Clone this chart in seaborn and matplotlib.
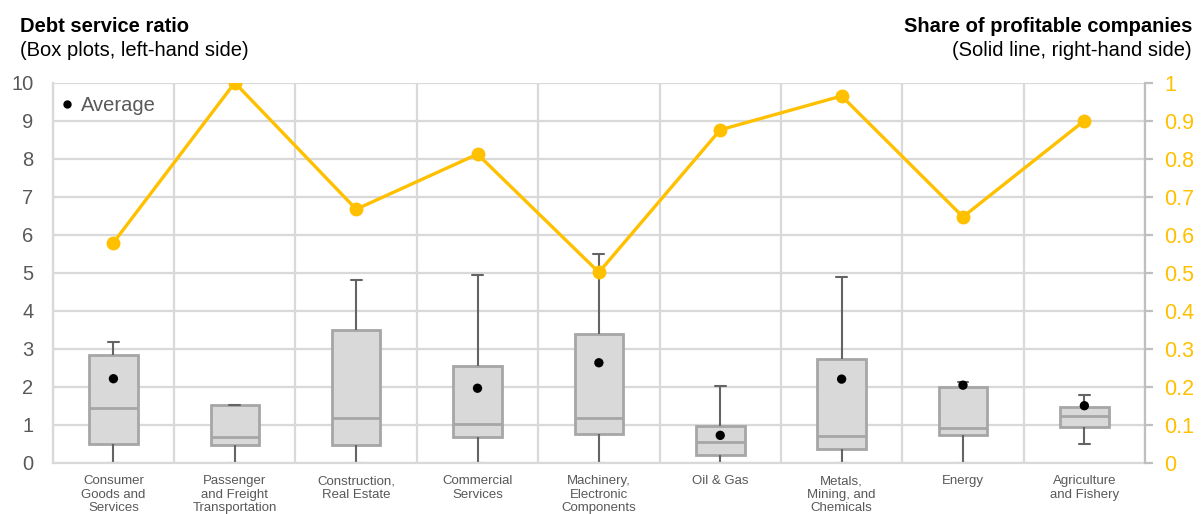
import numpy as np
import pandas as pd
import matplotlib
matplotlib.use("Agg")
import matplotlib.pyplot as plt
from matplotlib.lines import Line2D
import seaborn as sns

# Sectors (x-axis categories)
sectors = [
    "Consumer\nGoods and\nServices",
    "Passenger\nand Freight\nTransportation",
    "Construction,\nReal Estate",
    "Commercial\nServices",
    "Machinery,\nElectronic\nComponents",
    "Oil & Gas",
    "Metals,\nMining, and\nChemicals",
    "Energy",
    "Agriculture\nand Fishery",
]

# Debt service ratio distribution per sector (five-number summary)
dsr_min = [0.00, 0.00, 0.00, 0.00, 0.00, 0.00, 0.00, 0.00, 0.50]
dsr_q1 = [0.48, 0.46, 0.47, 0.67, 0.76, 0.19, 0.35, 0.73, 0.94]
dsr_median = [1.45, 0.67, 1.18, 1.02, 1.18, 0.54, 0.70, 0.92, 1.24]
dsr_q3 = [2.83, 1.51, 3.50, 2.54, 3.39, 0.97, 2.74, 1.98, 1.47]
dsr_max = [3.17, 1.51, 4.81, 4.93, 5.49, 2.02, 4.88, 2.12, 1.78]

# Average debt service ratio (not shown for two sectors)
dsr_mean = [2.21, np.nan, np.nan, 1.96, 2.63, 0.72, 2.20, 2.04, 1.50]

# Share of profitable companies (right-hand axis)
share_profitable = [0.579, 1.00, 0.667, 0.812, 0.501, 0.876, 0.965, 0.647, 0.900]

left_ticks = list(range(0, 11))
right_ticks = [0, 0.1, 0.2, 0.3, 0.4, 0.5, 0.6, 0.7, 0.8, 0.9, 1.0]

GREY_TXT = "#595959"
GRID = "#D9D9D9"
YELLOW = "#FFC000"

sns.set_theme(style="white")
plt.rcParams["font.family"] = ["Liberation Sans", "DejaVu Sans"]

# Long-form table: each sector's five summary values reproduce its box exactly
rows = []
for i, s in enumerate(sectors):
    for v in (dsr_min[i], dsr_q1[i], dsr_median[i], dsr_q3[i], dsr_max[i]):
        rows.append({"sector": s, "dsr": v})
df = pd.DataFrame(rows)

fig = plt.figure(figsize=(12.01, 5.14), dpi=100)
ax = fig.add_axes([0.0439, 0.0998, 0.9095, 0.7393])

sns.boxplot(
    data=df, x="sector", y="dsr", order=sectors, ax=ax,
    whis=(0, 100), width=0.4, color="#D9D9D9", linecolor="#A6A6A6",
    linewidth=1.6, showfliers=False,
    whiskerprops={"color": "#646464", "linewidth": 1.5},
    capprops={"color": "#646464", "linewidth": 1.5},
    medianprops={"color": "#A6A6A6", "linewidth": 2},
    boxprops={"edgecolor": "#A6A6A6", "facecolor": "#D9D9D9", "linewidth": 2},
    capwidths=0.09,
)

pos = np.arange(len(sectors))
sns.scatterplot(x=pos, y=dsr_mean, ax=ax, color="black", s=45,
                edgecolor="none", zorder=5, legend=False)

ax.set_xlim(-0.5, len(sectors) - 0.5)
ax.set_ylim(0, 10)
ax.set_yticks(left_ticks)
ax.set_yticklabels([str(t) for t in left_ticks])
ax.set_xticks(pos)
ax.set_xticklabels(sectors, fontsize=9.5, color=GREY_TXT, linespacing=1.17)
ax.set_xticks(np.arange(-0.5, len(sectors), 1.0), minor=True)
ax.set_xlabel("")
ax.set_ylabel("")
ax.tick_params(axis="x", which="both", length=0, pad=9)
ax.tick_params(axis="y", length=0, pad=14, labelsize=14.5, labelcolor=GREY_TXT)
ax.grid(False)
ax.yaxis.grid(True, color=GRID, linewidth=1.6)
ax.xaxis.grid(True, which="minor", color=GRID, linewidth=1.6)
ax.set_axisbelow(True)
for side in ("top", "right"):
    ax.spines[side].set_visible(False)
for side in ("left", "bottom"):
    ax.spines[side].set_color(GRID)
    ax.spines[side].set_linewidth(1.6)

# Share of profitable companies on the secondary axis
ax2 = ax.twinx()
sns.lineplot(x=pos, y=share_profitable, ax=ax2, color=YELLOW, linewidth=2.4,
             marker="o", markersize=10, markeredgewidth=0, legend=False)
ax2.set_ylim(0, 1)
ax2.set_yticks(right_ticks)
ax2.set_yticklabels([f"{t:g}" for t in right_ticks])
ax2.set_ylabel("")
ax2.grid(False)
ax2.tick_params(axis="y", length=6, width=1.6, color="#BFBFBF", pad=8,
                labelsize=15.5, labelcolor=YELLOW)
for side in ("top", "left", "bottom"):
    ax2.spines[side].set_visible(False)
ax2.spines["right"].set_color("#BFBFBF")
ax2.spines["right"].set_linewidth(1.6)

handle = Line2D([], [], marker="o", linestyle="none", color="black", markersize=5)
ax2.legend([handle], ["Average"], loc="upper left", bbox_to_anchor=(-0.004, 1.0),
           frameon=False, fontsize=14.5, labelcolor=GREY_TXT,
           handlelength=0.6, handletextpad=0.35, borderaxespad=0.25)

fig.text(20 / 1201, 1 - 27 / 514, "Debt service ratio", fontsize=14.5,
         fontweight="bold", color="black", ha="left", va="center")
fig.text(20 / 1201, 1 - 51 / 514, "(Box plots, left-hand side)", fontsize=14.5,
         color="black", ha="left", va="center")
fig.text(1192 / 1201, 1 - 27 / 514, "Share of profitable companies", fontsize=14.5,
         fontweight="bold", color="black", ha="right", va="center")
fig.text(1192 / 1201, 1 - 51 / 514, "(Solid line, right-hand side)", fontsize=14.5,
         color="black", ha="right", va="center")

fig.savefig("out.png", dpi=100)
